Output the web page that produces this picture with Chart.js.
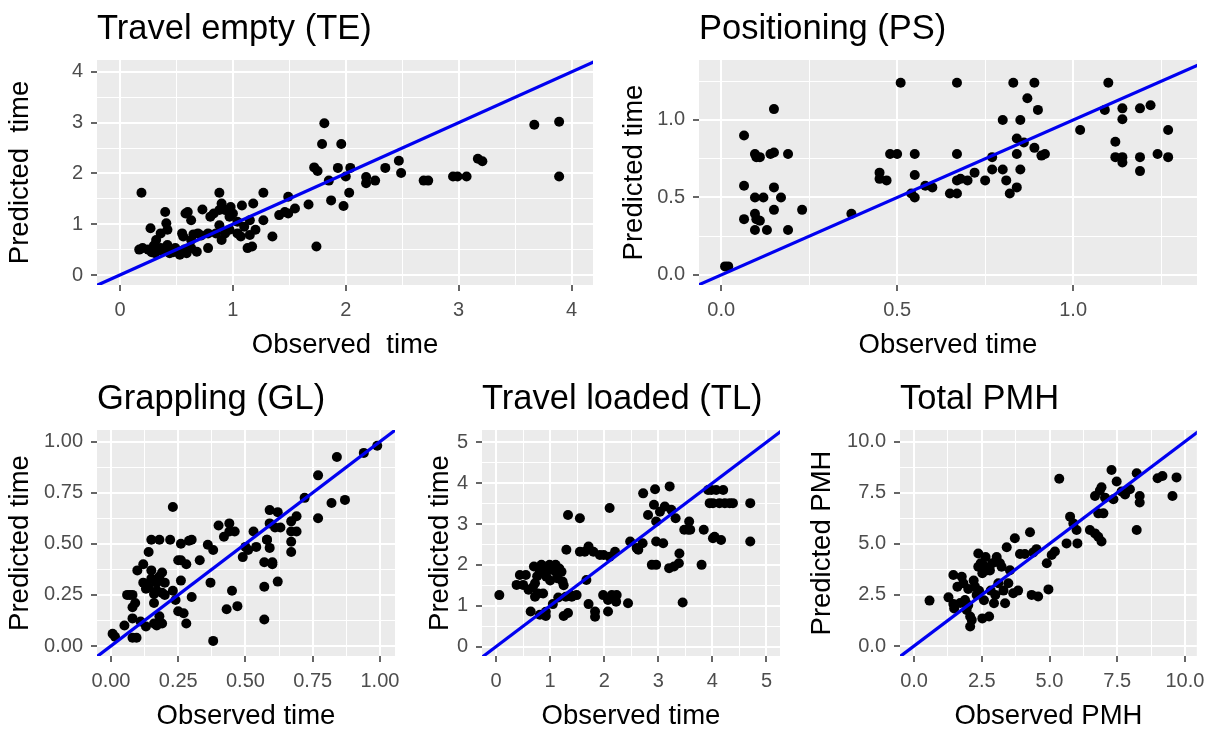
<!DOCTYPE html>
<html>
<head>
<meta charset="utf-8">
<script src="https://cdn.jsdelivr.net/npm/chart.js@4.4.1/dist/chart.umd.min.js"></script>
<style>
    html, body { margin: 0; padding: 0; background: #ffffff; overflow: hidden; }
    body { width: 1215px; height: 729px; position: relative; }
    canvas { position: absolute; }
</style>
</head>
<body>
<script>
// Travel empty (TE)
const teObserved = [0.19,0.17,0.25,0.27,0.31,0.36,0.40,0.41,0.42,0.44,0.36,0.32,0.49,0.56,0.58,0.60,0.63,0.59,0.68,0.73,0.78,0.80,0.83,0.88,0.88,0.90,0.93,0.97,1.00,1.04,1.07,1.08,1.13,1.15,1.18,1.20,1.27,1.27,1.35,1.41,1.46,1.49,1.49,1.55,1.67,1.72,1.75,1.74,1.79,1.81,1.85,1.87,1.93,1.96,1.98,2.00,2.03,2.04,2.18,2.18,2.26,2.35,2.47,2.49,2.69,2.73,2.95,2.99,3.07,3.17,3.21,3.67,3.89,3.89,0.20,0.42,0.53,0.63,0.69,0.78,0.90,0.98,1.04,1.10,1.15,0.97,0.85,1.17,0.55,0.63,0.28,0.33,0.38,0.47,0.57,0.30,0.65,0.72,0.88,0.93];
const tePredicted = [1.62,0.50,0.50,0.92,0.43,0.82,1.24,1.02,0.89,0.43,0.53,0.69,0.53,0.76,1.21,1.24,1.08,0.43,0.46,1.29,0.53,1.15,1.21,1.62,1.28,0.69,0.82,1.15,1.21,0.82,0.76,1.37,0.53,0.79,1.41,0.89,1.62,1.08,0.76,1.18,1.24,1.54,1.21,1.31,1.39,2.12,2.05,0.56,2.58,2.99,1.86,1.47,2.11,2.58,1.36,1.94,1.62,2.11,1.93,1.81,1.86,2.11,2.25,2.01,1.86,1.86,1.94,1.94,1.94,2.29,2.24,2.96,3.02,1.94,0.53,0.59,0.40,0.53,0.82,0.82,1.41,1.34,1.05,0.95,1.08,0.89,0.82,0.56,0.82,0.69,0.45,0.48,0.47,0.45,0.50,0.58,0.80,0.78,0.98,1.28];

// Positioning (PS)
const psObserved = [0.011,0.02,0.065,0.065,0.065,0.096,0.10,0.11,0.14,0.15,0.15,0.19,0.096,0.12,0.15,0.17,0.096,0.10,0.11,0.096,0.13,0.15,0.19,0.23,0.37,0.45,0.45,0.47,0.48,0.50,0.51,0.55,0.55,0.54,0.55,0.58,0.60,0.65,0.67,0.67,0.67,0.67,0.68,0.70,0.72,0.75,0.77,0.77,0.80,0.80,0.81,0.82,0.83,0.84,0.84,0.84,0.85,0.85,0.86,0.87,0.89,0.89,0.90,0.91,0.92,1.02,1.09,1.10,1.12,1.12,1.14,1.14,1.14,1.14,1.19,1.19,1.19,1.22,1.24,1.27,1.27];
const psPredicted = [0.055,0.055,0.90,0.575,0.36,0.78,0.76,0.76,0.78,0.79,1.07,0.78,0.50,0.50,0.565,0.50,0.395,0.36,0.35,0.29,0.29,0.42,0.29,0.42,0.395,0.66,0.62,0.61,0.78,0.78,1.24,0.78,0.645,0.525,0.50,0.575,0.565,0.525,0.525,1.24,0.78,0.61,0.62,0.61,0.66,0.61,0.76,0.68,1.00,0.68,0.61,0.525,1.24,0.88,0.78,0.565,1.00,0.68,0.855,1.14,1.24,0.82,1.065,0.77,0.78,0.935,1.065,1.24,0.86,0.76,1.075,1.005,0.76,0.725,1.075,0.76,0.67,1.095,0.78,0.935,0.76];

// Grappling (GL)
const glObserved = [0.006,0.015,0.05,0.06,0.07,0.08,0.08,0.09,0.08,0.08,0.095,0.098,0.12,0.12,0.13,0.14,0.14,0.15,0.15,0.16,0.16,0.16,0.17,0.18,0.18,0.18,0.19,0.19,0.19,0.20,0.22,0.23,0.23,0.24,0.25,0.25,0.26,0.26,0.26,0.27,0.28,0.28,0.29,0.30,0.30,0.33,0.36,0.37,0.38,0.38,0.40,0.42,0.43,0.44,0.44,0.45,0.46,0.47,0.49,0.50,0.51,0.53,0.54,0.57,0.57,0.57,0.58,0.59,0.59,0.60,0.60,0.61,0.62,0.62,0.63,0.67,0.67,0.67,0.67,0.69,0.69,0.72,0.77,0.77,0.82,0.84,0.87,0.94,0.99,0.58,0.59,0.13,0.15,0.17,0.20,0.11,0.17];
const glPredicted = [0.06,0.045,0.10,0.25,0.25,0.25,0.19,0.21,0.135,0.04,0.04,0.37,0.40,0.31,0.095,0.29,0.46,0.52,0.37,0.255,0.21,0.11,0.31,0.34,0.145,0.52,0.36,0.26,0.11,0.31,0.52,0.27,0.68,0.225,0.17,0.42,0.42,0.50,0.32,0.16,0.40,0.11,0.515,0.52,0.24,0.42,0.495,0.31,0.47,0.025,0.59,0.535,0.18,0.60,0.56,0.27,0.56,0.195,0.435,0.485,0.47,0.56,0.485,0.29,0.13,0.41,0.52,0.665,0.60,0.41,0.40,0.58,0.655,0.315,0.58,0.61,0.56,0.51,0.46,0.635,0.56,0.725,0.835,0.625,0.70,0.925,0.715,0.945,0.98,0.52,0.48,0.28,0.33,0.27,0.25,0.12,0.10];

// Travel loaded (TL)
const tlObserved = [0.06,0.38,0.44,0.55,0.50,0.60,0.64,0.70,0.72,0.72,0.81,0.81,0.84,0.87,0.92,0.93,0.99,1.02,1.05,1.10,1.14,1.17,1.21,1.23,1.25,1.33,1.29,1.33,1.30,1.38,1.49,1.55,1.55,1.64,1.67,1.71,1.71,1.80,1.83,1.83,1.92,1.99,1.98,2.07,2.07,2.10,2.10,2.14,2.20,2.22,2.23,2.44,2.48,2.60,2.63,2.71,2.72,2.81,2.88,2.92,2.94,2.96,2.96,2.96,3.03,3.09,3.12,3.21,3.24,3.20,3.29,3.32,3.38,3.39,3.45,3.48,3.57,3.55,3.59,3.80,3.84,3.92,3.95,4.01,4.04,4.07,4.13,4.16,4.20,4.23,4.32,4.38,4.70,4.70,4.01,3.98,0.95,1.05,1.12,0.88,0.76,0.68,0.78,1.00,1.25,1.15,1.40,0.92];
const tlPredicted = [1.26,1.51,1.75,1.75,1.51,1.39,0.86,1.96,1.55,1.22,0.78,1.83,2.00,1.30,0.75,1.71,2.00,1.88,1.04,2.00,1.67,1.91,1.83,1.59,0.75,0.82,1.22,3.22,2.37,1.26,1.26,3.14,2.32,2.32,1.63,2.45,1.04,2.32,0.73,0.86,2.24,2.24,1.26,1.14,0.86,3.39,2.20,1.26,2.32,1.10,1.26,1.06,2.57,2.41,2.37,2.53,3.75,3.22,2.00,3.47,3.85,2.00,3.06,2.57,3.30,2.53,3.43,3.92,3.35,1.92,1.96,3.14,2.04,2.28,1.08,2.86,3.06,2.86,2.86,2.00,2.86,3.83,3.51,3.51,2.69,3.83,3.51,2.61,3.83,3.51,3.51,3.51,3.51,2.57,2.65,3.83,1.92,1.95,1.80,1.80,1.72,1.45,1.30,1.62,1.50,1.20,1.22,0.85];

// Total PMH
const pmhObserved = [0.57,1.27,1.45,1.45,1.48,1.76,1.82,1.88,1.94,2.00,2.07,2.07,2.13,2.25,2.31,2.37,2.37,2.46,2.52,2.52,2.58,2.64,2.71,2.77,2.83,2.89,2.95,3.05,3.11,3.17,3.23,3.30,3.36,3.42,3.48,3.54,3.72,3.66,3.84,3.91,4.09,4.28,4.34,4.40,4.52,4.58,4.90,4.96,5.08,5.20,5.36,5.63,5.76,5.88,6.00,6.03,6.49,6.68,6.80,6.92,6.68,6.80,6.92,6.99,7.05,7.29,7.36,7.48,7.66,7.79,7.97,8.22,8.22,8.33,8.33,8.99,9.17,9.54,9.69,6.86,2.2,2.6,2.8,1.6,2.4,3.0,1.7,2.0];
const pmhPredicted = [2.22,2.38,3.47,2.06,1.84,3.39,3.07,2.25,1.76,2.79,1.44,0.95,1.27,2.90,2.50,4.53,3.88,4.05,3.56,1.35,2.24,4.35,3.71,1.44,2.71,4.05,2.09,4.35,3.07,4.05,3.88,2.71,2.09,4.83,3.07,3.71,5.27,2.58,2.71,4.50,4.50,5.57,2.50,4.58,4.74,2.42,4.05,2.77,4.45,4.62,8.18,5.02,6.33,6.00,5.68,5.02,5.68,5.51,5.35,5.11,7.34,6.49,7.77,6.49,7.26,8.61,7.18,8.05,7.56,7.41,7.67,5.68,8.45,7.34,7.02,8.21,8.32,7.34,8.25,7.61,3.2,3.9,3.7,2.9,2.7,2.5,2.1,2.0];

// tick values and labels
const teTicks = [0, 1, 2, 3, 4];
const teTickLabels = ['0', '1', '2', '3', '4'];
const psTicks = [0, 0.5, 1.0];
const psTickLabels = ['0.0', '0.5', '1.0'];
const glTicks = [0, 0.25, 0.5, 0.75, 1.0];
const glTickLabels = ['0.00', '0.25', '0.50', '0.75', '1.00'];
const tlTicks = [0, 1, 2, 3, 4, 5];
const tlTickLabels = ['0', '1', '2', '3', '4', '5'];
const pmhTicks = [0, 2.5, 5, 7.5, 10];
const pmhTickLabels = ['0.0', '2.5', '5.0', '7.5', '10.0'];

// 1:1 reference line (observed = predicted), ends beyond each panel
const teLine = [-0.3, 4.3];
const psLine = [-0.1, 1.4];
const glLine = [-0.1, 1.1];
const tlLine = [-0.3, 5.4];
const pmhLine = [-0.6, 10.7];

const FONT = "'Liberation Sans', Arial, sans-serif";
Chart.defaults.font.family = FONT;

// gray panel background like ggplot
const fondoPanel = {
    id: 'fondoPanel',
    beforeDraw(chart) {
        const a = chart.chartArea;
        const ctx = chart.ctx;
        ctx.save();
        ctx.fillStyle = '#EBEBEB';
        ctx.fillRect(a.left, a.top, a.right - a.left, a.bottom - a.top);
        ctx.restore();
    }
};

function crearEje(pos, min, max, ticks, labels, titulo, tamaño) {
    const paso = ticks[1] - ticks[0];
    const lista = [];
    for (let v = ticks[0] - paso / 2; v <= max + 1e-9; v += paso / 2) {
        if (v < min) continue;
        const k = ticks.findIndex(t => Math.abs(t - v) < 1e-9);
        lista.push({ value: v, major: k >= 0, etiqueta: k >= 0 ? labels[k] : '' });
    }
    const horizontal = pos === 'bottom';
    return {
        type: 'linear',
        position: pos,
        min: min,
        max: max,
        bounds: 'data',
        afterBuildTicks: s => { s.ticks = lista.map(t => ({ value: t.value, major: t.major, etiqueta: t.etiqueta })); },
        afterFit: s => { if (horizontal) s.height = tamaño; else s.width = tamaño; },
        border: { display: false },
        grid: {
            color: '#FFFFFF',
            lineWidth: c => (c.tick && c.tick.major ? 2 : 1),
            drawTicks: true,
            tickLength: 6,
            tickWidth: 1.5,
            tickColor: c => (c.tick && c.tick.major ? '#333333' : 'rgba(0,0,0,0)')
        },
        ticks: {
            autoSkip: false,
            maxRotation: 0,
            minRotation: 0,
            color: '#4D4D4D',
            padding: horizontal ? 7 : 8,
            font: { size: 20 },
            callback: (v, i, ts) => ts[i].etiqueta
        },
        title: {
            display: true,
            text: titulo,
            color: '#000000',
            font: { size: 27.5 },
            padding: { top: 3.5, bottom: 3.5 }
        }
    };
}

function crearPanel(p) {
    const left = p.tituloY - 20;
    const top = p.T - 60;
    const canvas = document.createElement('canvas');
    canvas.width = p.R + 15 - left;
    canvas.height = p.B + 80 - top;
    canvas.style.left = left + 'px';
    canvas.style.top = top + 'px';
    document.body.appendChild(canvas);

    new Chart(canvas.getContext('2d'), {
        type: 'scatter',
        data: {
            datasets: [
                {
                    data: p.linea.map(v => ({ x: v, y: v })),
                    showLine: true,
                    borderColor: '#0000F0',
                    borderWidth: 3.2,
                    pointRadius: 0,
                    order: 0
                },
                {
                    data: p.obs.map((x, i) => ({ x: x, y: p.pred[i] })),
                    backgroundColor: '#000000',
                    borderWidth: 0,
                    pointRadius: 5,
                    order: 1
                }
            ]
        },
        options: {
            responsive: false,
            animation: false,
            events: [],
            layout: { padding: { left: 0, top: 0, right: 15, bottom: 0 } },
            plugins: {
                legend: { display: false },
                tooltip: { enabled: false },
                title: {
                    display: true,
                    text: p.titulo,
                    align: 'start',
                    fullSize: false,
                    color: '#000000',
                    font: { size: 34.5, weight: 'normal' },
                    padding: { top: 9, bottom: 9.6 }
                }
            },
            scales: {
                x: crearEje('bottom', p.xMin, p.xMax, p.ticks, p.labels, p.tituloX, 80),
                y: crearEje('left', p.yMin, p.yMax, p.ticks, p.labels, p.tituloYTexto, p.L - left)
            }
        },
        plugins: [fondoPanel]
    });
}

crearPanel({ titulo: 'Travel empty (TE)', tituloX: 'Observed  time', tituloYTexto: 'Predicted  time',
    obs: teObserved, pred: tePredicted, ticks: teTicks, labels: teTickLabels, linea: teLine,
    L: 97, R: 593, T: 60, B: 285, tituloY: 20, xMin: -0.204, xMax: 4.19, yMin: -0.197, yMax: 4.236 });

crearPanel({ titulo: 'Positioning (PS)', tituloX: 'Observed time', tituloYTexto: 'Predicted time',
    obs: psObserved, pred: psPredicted, ticks: psTicks, labels: psTickLabels, linea: psLine,
    L: 699, R: 1197, T: 60, B: 285, tituloY: 634, xMin: -0.063, xMax: 1.352, yMin: -0.065, yMax: 1.387 });

crearPanel({ titulo: 'Grappling (GL)', tituloX: 'Observed time', tituloYTexto: 'Predicted time',
    obs: glObserved, pred: glPredicted, ticks: glTicks, labels: glTickLabels, linea: glLine,
    L: 97, R: 395, T: 430, B: 656, tituloY: 20, xMin: -0.052, xMax: 1.056, yMin: -0.049, yMax: 1.057 });

crearPanel({ titulo: 'Travel loaded (TL)', tituloX: 'Observed time', tituloYTexto: 'Predicted time',
    obs: tlObserved, pred: tlPredicted, ticks: tlTicks, labels: tlTickLabels, linea: tlLine,
    L: 482, R: 780, T: 430, B: 656, tituloY: 440, xMin: -0.26, xMax: 5.25, yMin: -0.23, yMax: 5.30 });

crearPanel({ titulo: 'Total PMH', tituloX: 'Observed PMH', tituloYTexto: 'Predicted PMH',
    obs: pmhObserved, pred: pmhPredicted, ticks: pmhTicks, labels: pmhTickLabels, linea: pmhLine,
    L: 900, R: 1197, T: 430, B: 656, tituloY: 822, xMin: -0.52, xMax: 10.44, yMin: -0.49, yMax: 10.57 });
</script>
</body>
</html>
